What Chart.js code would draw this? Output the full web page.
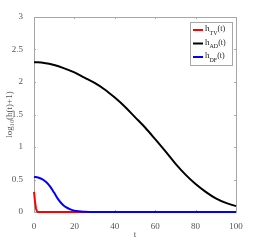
<!DOCTYPE html>
<html>
<head>
<meta charset="utf-8">
<script src="https://cdn.jsdelivr.net/npm/chart.js@4/dist/chart.umd.min.js"></script>
<style>
  html, body { margin: 0; padding: 0; background: #fff; }
  #wrap { width: 261px; height: 240px; }
</style>
</head>
<body>
<div id="wrap"><canvas id="myChart" width="261" height="240"></canvas></div>
<script>
// h(t) curves

const tRed = [0, 0.5, 1, 1.5, 2, 5, 20, 50, 100];
const hRed = [0.31, 0.16, 0.05, 0.01, 0, 0, 0, 0, 0];

const tBlack = [0, 5, 10, 15, 20, 25, 30, 35, 40, 45, 50, 55, 60, 65, 70, 75, 80, 85, 90, 95, 100];
const hBlack = [2.305, 2.294, 2.262, 2.21, 2.147, 2.067, 1.985, 1.885, 1.76, 1.62, 1.46, 1.30, 1.12, 0.935, 0.745, 0.575, 0.43, 0.31, 0.21, 0.14, 0.09];

const tBlue = [0, 2, 4, 6, 8, 10, 12, 14, 16, 18, 20, 22, 25, 30, 50, 100];
const hBlue = [0.54, 0.53, 0.505, 0.46, 0.39, 0.295, 0.195, 0.12, 0.07, 0.04, 0.02, 0.01, 0.004, 0, 0, 0];

// legend text: [base, subscript, suffix]
const legendLabels = [['h', 'TV', '(t)'], ['h', 'AD', '(t)'], ['h', 'DF', '(t)']];
const legendColors = ['#ff0000', '#000000', '#0000ff'];
const xTicks = [0, 20, 40, 60, 80, 100];
const yTicks = [0, 0.5, 1, 1.5, 2, 2.5, 3];

const toPoints = (xs, ys) => xs.map((x, i) => ({ x: x, y: ys[i] }));

const axisGray = '#a6a6a6';
const textGray = '#555';
const serif = '"Liberation Serif", "Times New Roman", serif';

// MATLAB-like box with inward ticks (under the lines), legend with subscripts on top
const boxPlugin = {
  id: 'box',
  beforeDatasetsDraw(chart) {
    const ctx = chart.ctx;
    const a = chart.chartArea;
    const xs = chart.scales.x, ys = chart.scales.y;
    ctx.save();
    ctx.strokeStyle = axisGray;
    ctx.lineWidth = 1;
    ctx.strokeRect(a.left + 0.5, a.top + 0.5, a.right - a.left, a.bottom - a.top);
    ctx.beginPath();
    xTicks.forEach(v => {
      const px = Math.round(xs.getPixelForValue(v)) + 0.5;
      ctx.moveTo(px, a.bottom); ctx.lineTo(px, a.bottom - 2);
      ctx.moveTo(px, a.top); ctx.lineTo(px, a.top + 2);
    });
    yTicks.forEach(v => {
      const py = Math.round(ys.getPixelForValue(v)) + 0.5;
      ctx.moveTo(a.left, py); ctx.lineTo(a.left + 2, py);
      ctx.moveTo(a.right, py); ctx.lineTo(a.right - 2, py);
    });
    ctx.stroke();
    ctx.restore();
  },
  afterDraw(chart) {
    const ctx = chart.ctx;
    ctx.save();
    const lx = 190, ly = 22, lw = 42, lh = 43;
    ctx.fillStyle = '#fff';
    ctx.fillRect(lx, ly, lw, lh);
    ctx.strokeStyle = axisGray;
    ctx.lineWidth = 1;
    ctx.strokeRect(lx + 0.5, ly + 0.5, lw, lh);
    legendLabels.forEach((lab, i) => {
      const cy = ly + 8 + i * 13.5;
      ctx.strokeStyle = legendColors[i];
      ctx.lineWidth = 2;
      ctx.beginPath();
      ctx.moveTo(lx + 3, cy); ctx.lineTo(lx + 13, cy);
      ctx.stroke();
      ctx.fillStyle = '#222';
      ctx.textBaseline = 'middle';
      ctx.font = '9px ' + serif;
      let x = lx + 15;
      ctx.fillText(lab[0], x, cy - 1);
      x += ctx.measureText(lab[0]).width;
      ctx.font = '6px ' + serif;
      ctx.fillText(lab[1], x, cy + 3);
      x += ctx.measureText(lab[1]).width;
      ctx.font = '8px ' + serif;
      ctx.fillText(lab[2], x, cy - 1);
    });
    ctx.restore();
  }
};

// blue listed first so that it is drawn on top of red along zero
const data = {
  datasets: [
    {
      label: 'h_DF(t)',
      data: toPoints(tBlue, hBlue),
      borderColor: '#0000ff',
      borderWidth: 2,
      cubicInterpolationMode: 'monotone',
      clip: 2,
    },
    {
      label: 'h_AD(t)',
      data: toPoints(tBlack, hBlack),
      borderColor: '#000000',
      borderWidth: 2,
      cubicInterpolationMode: 'monotone',
      clip: 2,
    },
    {
      label: 'h_TV(t)',
      data: toPoints(tRed, hRed),
      borderColor: '#ff0000',
      borderWidth: 2,
      clip: 2,
    },
  ]
};

const config = {
  type: 'line',
  data: data,
  plugins: [boxPlugin],
  options: {
    responsive: false,
    animation: false,
    events: [],
    elements: { point: { radius: 0 } },
    layout: { padding: { left: 0, right: 25, top: 17, bottom: 0 } },
    scales: {
      x: {
        type: 'linear',
        min: 0, max: 100,
        afterBuildTicks: s => { s.ticks = xTicks.map(v => ({ value: v })); },
        afterFit: s => { s.height = 28; },
        grid: { display: false },
        border: { display: false },
        ticks: {
          color: textGray, padding: 1,
          maxRotation: 0,
          font: { family: serif, size: 9 },
        },
        title: {
          display: true, text: 't', color: textGray, padding: 0,
          font: { family: serif, size: 9 },
        },
      },
      y: {
        min: 0, max: 3,
        afterBuildTicks: s => { s.ticks = yTicks.map(v => ({ value: v })); },
        afterFit: s => { s.width = 34; },
        grid: { display: false },
        border: { display: false },
        ticks: {
          color: textGray, padding: 3,
          font: { family: serif, size: 9 },
          callback: v => String(v),
        },
        title: {
          display: true, text: 'log₁₀(h(t)+1)', color: textGray,
          padding: { top: 4, bottom: 0 },
          font: { family: serif, size: 9 },
        },
      },
    },
    plugins: {
      legend: { display: false },
      tooltip: { enabled: false },
    },
  },
};

const myChart = new Chart(document.getElementById('myChart'), config);
</script>
</body>
</html>
